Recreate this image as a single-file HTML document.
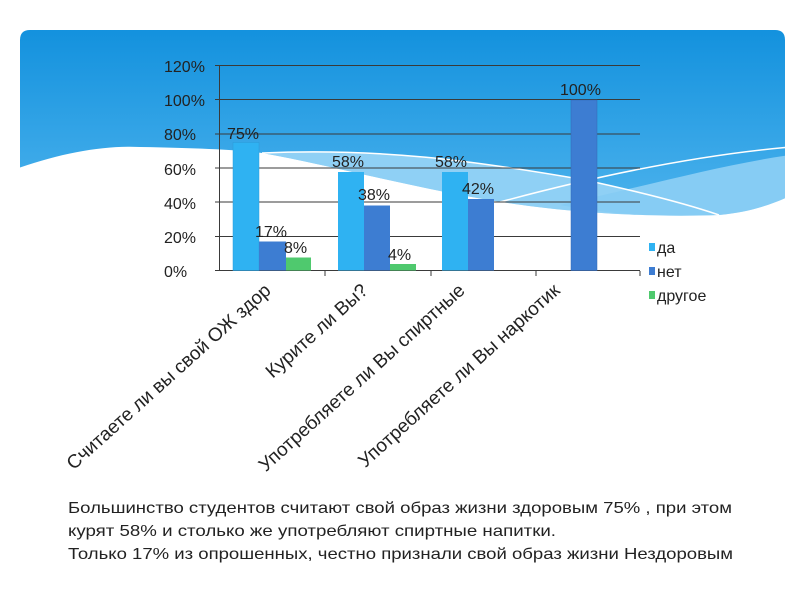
<!DOCTYPE html>
<html><head><meta charset="utf-8"><style>
html,body{margin:0;padding:0;background:#fff;}
svg{display:block;}
text{font-family:"Liberation Sans","DejaVu Sans",sans-serif;}
</style></head><body>
<svg width="800" height="600" viewBox="0 0 800 600" xmlns="http://www.w3.org/2000/svg">
<defs>
<linearGradient id="bg" x1="0" y1="0" x2="0" y2="1">
<stop offset="0" stop-color="#0a8cdb"/>
<stop offset="0.6" stop-color="#3aa8e8"/>
<stop offset="1" stop-color="#5cbcf0"/>
</linearGradient>
<clipPath id="card"><path d="M20 40 Q20 30 30 30 L775 30 Q785 30 785 40 L785 400 L20 400 Z"/></clipPath>
</defs>
<g clip-path="url(#card)">
<rect x="0" y="0" width="800" height="260" fill="url(#bg)"/>
<path d="M262 153 C380 148 470 160 585 180 C640 192 690 205 719 215 C640 218 560 211 508 203 C420 190 330 165 262 153 Z" fill="#8fd0f5"/>
<path d="M560 205 C650 185 720 165 790 155 L790 196 C770 205 750 212 719 215 C640 218 600 212 560 205 Z" fill="#86ccf4"/>
<path d="M0 175 C50 155 100 145 140 147 C200 148 240 150 262 153 C330 165 420 190 508 203 C560 211 640 218 719 215 C750 212 770 205 790 196 L790 600 L0 600 Z" fill="#fff"/>
<path d="M262 153 C380 148 470 160 585 180 C640 192 690 205 719 215" fill="none" stroke="#fff" stroke-width="1.5"/>
<path d="M500 202 C600 175 700 155 790 147" fill="none" stroke="#fff" stroke-width="1.5"/>
</g>
<g stroke="#3a3a3a" stroke-width="1">
<line x1="215" y1="65.5" x2="640" y2="65.5"/>
<line x1="215" y1="99.5" x2="640" y2="99.5"/>
<line x1="215" y1="134" x2="640" y2="134"/>
<line x1="215" y1="168" x2="640" y2="168"/>
<line x1="215" y1="202" x2="640" y2="202"/>
<line x1="215" y1="236.5" x2="640" y2="236.5"/>
<line x1="215" y1="270.5" x2="640" y2="270.5"/>
<line x1="219.5" y1="65" x2="219.5" y2="271"/>
<line x1="325" y1="271" x2="325" y2="276"/>
<line x1="431" y1="271" x2="431" y2="276"/>
<line x1="536" y1="271" x2="536" y2="276"/>
<line x1="640" y1="271" x2="640" y2="276"/>
</g>
<g font-size="16" fill="#222">
<text x="164" y="72">120%</text>
<text x="164" y="106">100%</text>
<text x="164" y="140">80%</text>
<text x="164" y="175">60%</text>
<text x="164" y="209">40%</text>
<text x="164" y="243">20%</text>
<text x="164" y="277">0%</text>
</g>
<g>
<rect x="233" y="142.5" width="26" height="128" fill="#2fb2f2" stroke="#2a9ad8" stroke-width="0.5"/>
<rect x="259" y="241.5" width="27" height="29" fill="#3d7dd2"/>
<rect x="286" y="257.5" width="25" height="13" fill="#4fc96e"/>
<rect x="338" y="172" width="26" height="98.5" fill="#2fb2f2"/>
<rect x="364" y="205.5" width="26" height="65" fill="#3d7dd2"/>
<rect x="390" y="264" width="26" height="6.5" fill="#4fc96e"/>
<rect x="442" y="172" width="26" height="98.5" fill="#2fb2f2"/>
<rect x="468" y="199" width="26" height="71.5" fill="#3d7dd2"/>
<rect x="571" y="100" width="26" height="170.5" fill="#3d7dd2" stroke="#3468b5" stroke-width="0.5"/>
</g>
<g font-size="16" fill="#222">
<text x="227" y="139">75%</text>
<text x="255" y="237">17%</text>
<text x="284" y="253">8%</text>
<text x="332" y="167">58%</text>
<text x="358" y="200">38%</text>
<text x="388" y="260">4%</text>
<text x="435" y="167">58%</text>
<text x="462" y="194">42%</text>
<text x="560" y="95">100%</text>
</g>
<rect x="649" y="243" width="6" height="8" fill="#2fb2f2"/>
<rect x="649" y="267" width="6" height="8" fill="#3d7dd2"/>
<rect x="649" y="291" width="6" height="8" fill="#4fc96e"/>
<g font-size="16" fill="#222">
<text x="657" y="253">да</text>
<text x="657" y="277">нет</text>
<text x="657" y="301">другое</text>
</g>
<g font-size="19" fill="#222">
<text transform="translate(272,292) rotate(-42)" text-anchor="end">Считаете ли вы свой ОЖ здор</text>
<text transform="translate(369,292) rotate(-42)" text-anchor="end">Курите ли Вы?</text>
<text transform="translate(466,292) rotate(-42)" text-anchor="end">Употребляете ли Вы спиртные</text>
<text transform="translate(561,292) rotate(-42)" text-anchor="end">Употребляете ли Вы наркотик</text>
</g>
<g font-size="16" fill="#222">
<text x="68" y="513" textLength="664" lengthAdjust="spacingAndGlyphs">Большинство студентов считают свой образ жизни здоровым 75% , при этом</text>
<text x="68" y="536" textLength="488" lengthAdjust="spacingAndGlyphs">курят 58% и столько же употребляют спиртные напитки.</text>
<text x="68" y="559" textLength="665" lengthAdjust="spacingAndGlyphs">Только 17% из опрошенных, честно признали свой образ жизни Нездоровым</text>
</g>
</svg>
</body></html>
